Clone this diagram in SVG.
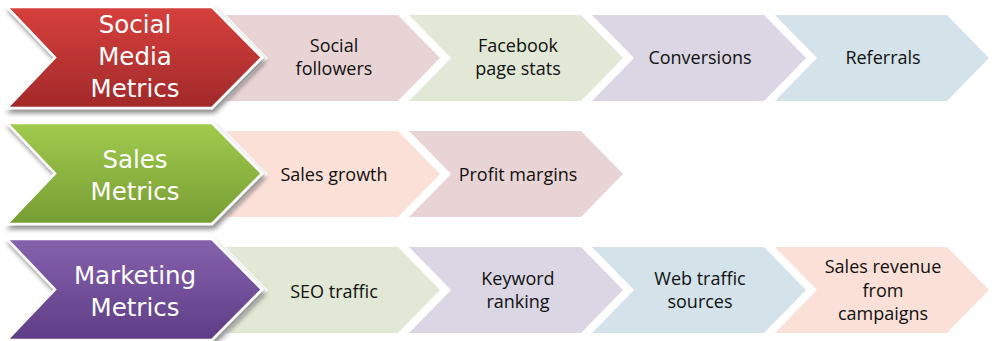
<svg xmlns="http://www.w3.org/2000/svg" width="993" height="341" viewBox="0 0 993 341">
  <defs>
    <linearGradient id="gRed" x1="0" y1="0" x2="0" y2="1">
      <stop offset="0" stop-color="#d6403c"/>
      <stop offset="1" stop-color="#a2292a"/>
    </linearGradient>
    <linearGradient id="gGreen" x1="0" y1="0" x2="0" y2="1">
      <stop offset="0" stop-color="#a0cb4e"/>
      <stop offset="1" stop-color="#779d33"/>
    </linearGradient>
    <linearGradient id="gPurple" x1="0" y1="0" x2="0" y2="1">
      <stop offset="0" stop-color="#8662ad"/>
      <stop offset="1" stop-color="#5e3d86"/>
    </linearGradient>
    <filter id="shadow" x="-10%" y="-10%" width="125%" height="130%">
      <feGaussianBlur in="SourceAlpha" stdDeviation="2.5"/>
      <feOffset dx="2" dy="4" result="b"/>
      <feComponentTransfer><feFuncA type="linear" slope="0.45"/></feComponentTransfer>
      <feMerge><feMergeNode/><feMergeNode in="SourceGraphic"/></feMerge>
    </filter>
    <!-- main chevron: body 205 wide, point 50 deep, 101 tall -->
    <path id="mainShape" d="M7,0 H212 L262,50.5 L212,101 H7 L55,50.5 Z"/>
    <!-- step chevron: 172 wide, point 42 deep, 86 tall -->
    <path id="stepShape" d="M0,0 H172 L214,43 L172,86 H0 L42,43 Z"/>
  </defs>
  <style>
    .main { stroke: #ffffff; stroke-width: 2.5; stroke-linejoin: miter; filter: url(#shadow); }
    .mt { font-family: "DejaVu Sans", "Open Sans", sans-serif; font-size: 24.5px; fill: #ffffff; text-anchor: middle; }
    .st { font-family: "Open Sans", "Liberation Sans", sans-serif; font-size: 18px; fill: #111111; text-anchor: middle; }
    .pink { fill: #e9d4d5; }
    .green { fill: #e1e8d5; }
    .lilac { fill: #dbd6e4; }
    .blue { fill: #d4e3ea; }
    .salmon { fill: #fbe0d7; }
  </style>

  <!-- Row 1: social media -->
  <g id="social-followers"><use href="#stepShape" class="pink" x="226" y="15"/>
    <text class="st" x="334" y="52">Social</text><text class="st" x="334" y="75">followers</text></g>
  <g id="facebook-page-stats"><use href="#stepShape" class="green" x="409" y="15"/>
    <text class="st" x="518" y="52">Facebook</text><text class="st" x="518" y="75">page stats</text></g>
  <g id="conversions"><use href="#stepShape" class="lilac" x="592" y="15"/>
    <text class="st" x="700" y="64">Conversions</text></g>
  <g id="referrals"><use href="#stepShape" class="blue" x="775" y="15"/>
    <text class="st" x="883" y="64">Referrals</text></g>
  <g id="social-media-metrics"><use href="#mainShape" class="main" fill="url(#gRed)" y="7"/>
    <text class="mt" x="135" y="33">Social</text><text class="mt" x="135" y="65">Media</text><text class="mt" x="135" y="97">Metrics</text></g>

  <!-- Row 2: sales -->
  <g id="sales-growth"><use href="#stepShape" class="salmon" x="226" y="131"/>
    <text class="st" x="334" y="181">Sales growth</text></g>
  <g id="profit-margins"><use href="#stepShape" class="pink" x="409" y="131"/>
    <text class="st" x="518" y="181">Profit margins</text></g>
  <g id="sales-metrics"><use href="#mainShape" class="main" fill="url(#gGreen)" y="123"/>
    <text class="mt" x="135" y="168">Sales</text><text class="mt" x="135" y="200">Metrics</text></g>

  <!-- Row 3: marketing -->
  <g id="seo-traffic"><use href="#stepShape" class="green" x="226" y="247"/>
    <text class="st" x="334" y="298">SEO traffic</text></g>
  <g id="keyword-ranking"><use href="#stepShape" class="lilac" x="409" y="247"/>
    <text class="st" x="518" y="285">Keyword</text><text class="st" x="518" y="308">ranking</text></g>
  <g id="web-traffic-sources"><use href="#stepShape" class="blue" x="592" y="247"/>
    <text class="st" x="700" y="285">Web traffic</text><text class="st" x="700" y="308">sources</text></g>
  <g id="sales-revenue"><use href="#stepShape" class="salmon" x="775" y="247"/>
    <text class="st" x="883" y="273">Sales revenue</text><text class="st" x="883" y="297">from</text><text class="st" x="883" y="320">campaigns</text></g>
  <g id="marketing-metrics"><use href="#mainShape" class="main" fill="url(#gPurple)" y="239"/>
    <text class="mt" x="135" y="284">Marketing</text><text class="mt" x="135" y="316">Metrics</text></g>
</svg>
